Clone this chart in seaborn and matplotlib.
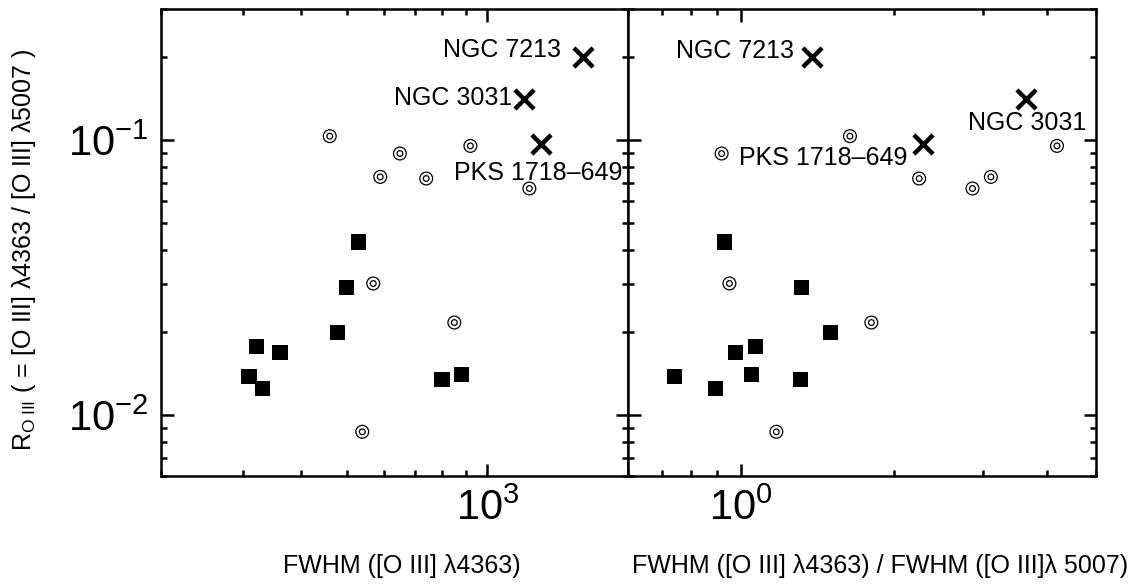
import numpy as np
import pandas as pd
import matplotlib
matplotlib.use("Agg")
import matplotlib.pyplot as plt
from matplotlib.ticker import LogLocator, LogFormatterSciNotation, NullFormatter
import seaborn as sns

# Objects of the first group (filled squares)
sq_ratio = [0.0426, 0.0292, 0.0199, 0.0178, 0.0169, 0.0138, 0.0125, 0.0135, 0.0140]
sq_fwhm = [530, 499, 479, 320, 360, 309, 330, 800, 879]
sq_fwhm_ratio = [0.928, 1.316, 1.499, 1.069, 0.976, 0.740, 0.891, 1.31, 1.049]

# Objects of the second group (double circles)
circ_ratio = [0.1034, 0.0894, 0.0735, 0.0725, 0.0953, 0.0667, 0.0301, 0.0217, 0.00869]
circ_fwhm = [460, 650, 590, 740, 920, 1230, 570, 850, 540]
circ_fwhm_ratio = [1.64, 0.917, 3.105, 2.244, 4.19, 2.857, 0.950, 1.807, 1.175]

# Individually named objects (crosses)
named = ["NGC 7213", "NGC 3031", "PKS 1718\u2013649"]
named_ratio = [0.201, 0.1407, 0.0967]
named_fwhm = [1603, 1201, 1301]
named_fwhm_ratio = [1.38, 3.64, 2.28]

sq = pd.DataFrame({"ratio": sq_ratio, "fwhm": sq_fwhm, "fwhm_ratio": sq_fwhm_ratio})
circ = pd.DataFrame({"ratio": circ_ratio, "fwhm": circ_fwhm, "fwhm_ratio": circ_fwhm_ratio})
nm = pd.DataFrame({"name": named, "ratio": named_ratio, "fwhm": named_fwhm,
                   "fwhm_ratio": named_fwhm_ratio})

sns.set_theme(style="white")
plt.rcParams["font.family"] = ["Liberation Sans", "DejaVu Sans"]
plt.rcParams["mathtext.fontset"] = "custom"
plt.rcParams["mathtext.rm"] = "Liberation Sans"
plt.rcParams["mathtext.it"] = "Liberation Sans"
plt.rcParams["mathtext.default"] = "regular"
plt.rcParams["axes.unicode_minus"] = True
for key in ("text.color", "axes.labelcolor", "xtick.color", "ytick.color",
            "axes.edgecolor"):
    plt.rcParams[key] = "black"

W, H = 1138, 587
fig = plt.figure(figsize=(W / 100, H / 100), dpi=100)
bottom = (H - 476) / H
height = 467 / H
ax1 = fig.add_axes([160.7 / W, bottom, 467.3 / W, height])
ax2 = fig.add_axes([628.0 / W, bottom, 468.0 / W, height])

# label placement (offset in points from the cross, alignment)
label_pos = {
    ax1: [((-16, 5), "right"), ((-9, 1), "right"), ((-2, -21), "center")],
    ax2: [((-13, 4.5), "right"), ((1, -17), "center"), ((-11, -10), "right")],
}

for ax, xcol, xlim in [(ax1, "fwhm", (200, 2000)), (ax2, "fwhm_ratio", (0.6, 5.0))]:
    sns.scatterplot(data=sq, x=xcol, y="ratio", ax=ax, marker="s", s=118,
                    color="black", edgecolor="none", linewidth=0, zorder=3)
    sns.scatterplot(data=circ, x=xcol, y="ratio", ax=ax, marker="o", s=85,
                    color="black", facecolors="none", edgecolor="black",
                    linewidth=0.9, zorder=3)
    sns.scatterplot(data=circ, x=xcol, y="ratio", ax=ax, marker="o", s=17,
                    color="black", facecolors="none", edgecolor="black",
                    linewidth=0.9, zorder=3)
    sns.scatterplot(data=nm, x=xcol, y="ratio", ax=ax, marker="x", s=190,
                    color="black", linewidth=3.2, zorder=4)
    for (name, xv, yv), ((dx, dy), ha) in zip(nm[["name", xcol, "ratio"]].values,
                                             label_pos[ax]):
        ax.annotate(name, (xv, yv), xytext=(dx, dy), textcoords="offset points",
                    ha=ha, va="center", fontsize=18, color="black")

    ax.set_xscale("log")
    ax.set_yscale("log")
    ax.set_xlim(*xlim)
    ax.set_ylim(0.006, 0.3)
    for a in (ax.xaxis, ax.yaxis):
        a.set_major_locator(LogLocator(base=10, numticks=10))
        a.set_minor_locator(LogLocator(base=10, subs=np.arange(2, 10), numticks=20))
        a.set_minor_formatter(NullFormatter())
    ax.xaxis.set_major_formatter(LogFormatterSciNotation())
    ax.tick_params(which="both", direction="in", top=True, right=True,
                   bottom=True, left=True, width=1.8, color="black")
    ax.tick_params(which="major", length=9, labelsize=30, pad=9)
    ax.tick_params(which="minor", length=4.5)
    for sp in ax.spines.values():
        sp.set_linewidth(1.8)
        sp.set_color("black")
    ax.set_ylabel("")
    ax.grid(False)

ax1.yaxis.set_major_formatter(LogFormatterSciNotation())
ax2.tick_params(axis="y", which="both", labelleft=False)

ax1.set_xlabel("FWHM ([O III] \u03bb4363)", fontsize=18)
ax2.set_xlabel("FWHM ([O III] \u03bb4363) / FWHM ([O III]\u03bb 5007)", fontsize=18)
ax1.xaxis.set_label_coords(0.516, -0.168)
ax2.xaxis.set_label_coords(0.538, -0.168)
for ax in (ax1, ax2):
    ax.xaxis.label.set_va("top")

ax1.set_ylabel("R$_{\\mathrm{O\\ III}}$ ( = [O III] \u03bb4363 / [O III] \u03bb5007 )",
               fontsize=18)
ax1.yaxis.set_label_coords(-0.262, 0.485)

fig.savefig("out.png", dpi=100)
